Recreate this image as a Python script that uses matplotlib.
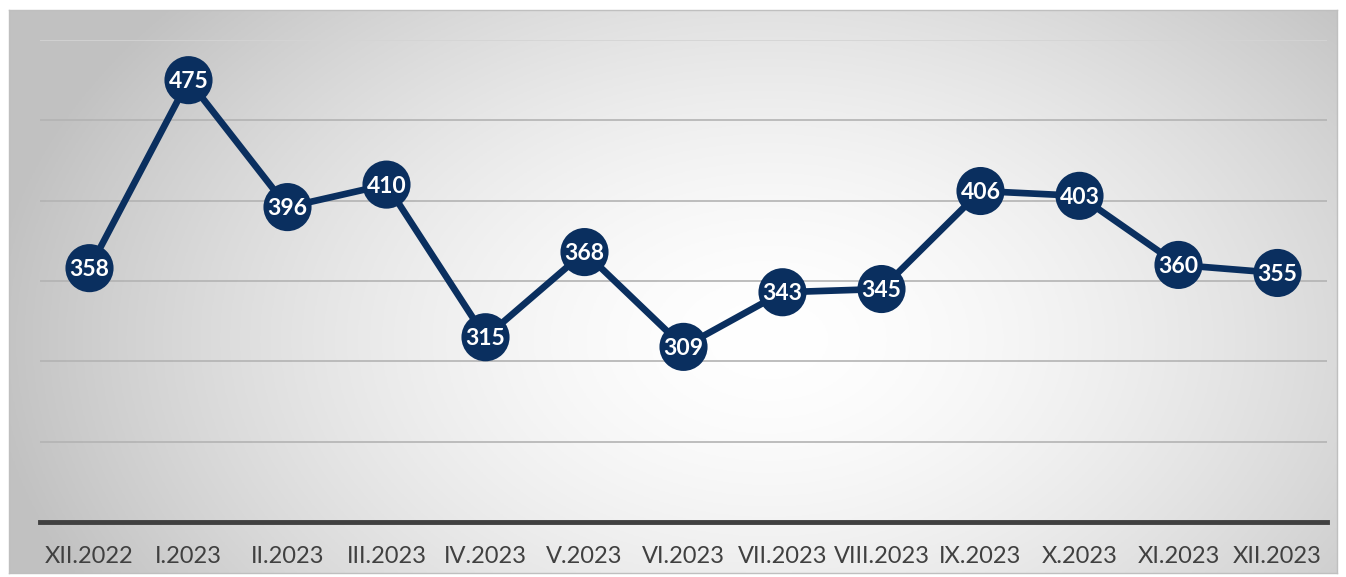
import matplotlib.pyplot as plt
import numpy as np

months = ["XII.2022", "I.2023", "II.2023", "III.2023", "IV.2023", "V.2023", "VI.2023",
          "VII.2023", "VIII.2023", "IX.2023", "X.2023", "XI.2023", "XII.2023"]
values = [358, 475, 396, 410, 315, 368, 309, 343, 345, 406, 403, 360, 355]
grid_levels = [250, 300, 350, 400, 450, 500]

navy = "#0a2f5f"
W, H = 1346, 577

fig = plt.figure(figsize=(W / 100, H / 100), dpi=100)
fig.patch.set_facecolor("white")

# radial gradient background panel
bg = fig.add_axes([9 / W, 1 - 573 / H, (1337 - 9) / W, (573 - 10) / H])
gx, gy = np.meshgrid(np.linspace(0, 1328, 400), np.linspace(0, 563, 200))
cx, cy = 760, 330
r = np.sqrt(((gx - cx) / 780) ** 2 + ((gy - cy) / 520) ** 2)
shade = np.clip(1 - 0.24 * r ** 1.6, 0.76, 1)
bg.imshow(np.dstack([shade] * 3), extent=[0, 1, 0, 1], aspect="auto", origin="upper")
bg.set_xticks([])
bg.set_yticks([])
for s in bg.spines.values():
    s.set_color("#bfbfbf")
    s.set_linewidth(1)

ax = fig.add_axes([40 / W, 1 - 522 / H, (1327 - 40) / W, (522 - 40) / H])
ax.set_facecolor("none")
x = np.arange(len(months))
ax.set_xlim(-0.5, len(months) - 0.5)
ax.set_ylim(200, 500)

for g in grid_levels:
    ax.axhline(g, color="#b3b3b3" if g < 500 else "#d4d4d4", lw=1.2, zorder=1)

ax.plot(x, values, color=navy, lw=4.8, zorder=2, solid_capstyle="round")
ax.scatter(x, values, s=1200, color=navy, zorder=3, edgecolors="none")
for xi, v in zip(x, values):
    ax.text(xi, v - 1, str(v), ha="center", va="center", color="white",
            fontsize=16.5, fontweight="bold", family="Lato", zorder=4)

for s in ["top", "right", "left"]:
    ax.spines[s].set_visible(False)
ax.spines["bottom"].set_color("#404040")
ax.spines["bottom"].set_linewidth(3.5)
ax.set_yticks([])
ax.set_xticks(x)
ax.set_xticklabels(months, fontsize=17, color="#404040", family="Lato")
ax.tick_params(axis="x", length=0, pad=17)

fig.savefig("out.png", dpi=100)
